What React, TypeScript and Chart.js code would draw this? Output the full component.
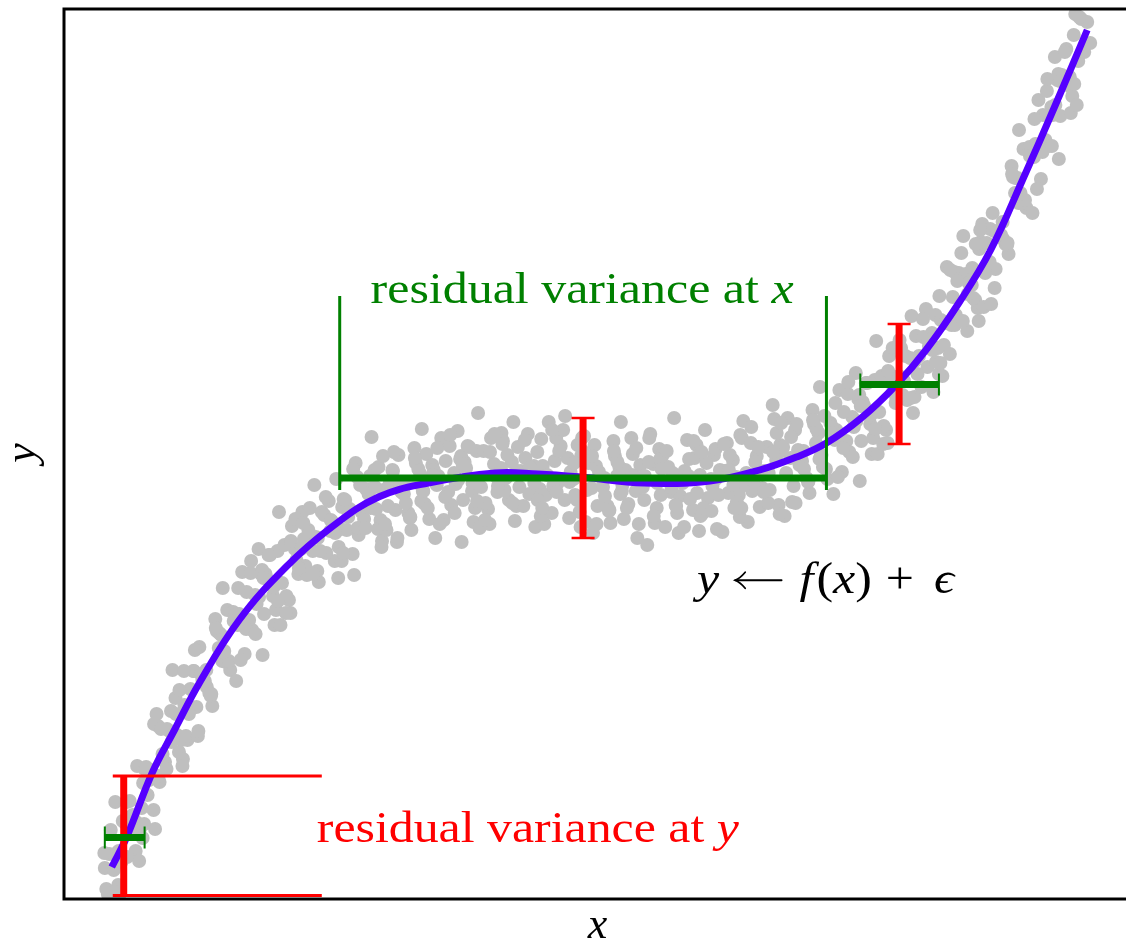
import React, { useEffect, useRef } from "react";
import { Chart, registerables } from "chart.js";

Chart.register(...registerables);

// fitted curve f(x)
const curveX = [4.8, 6.3, 8.9, 11.1, 13.6, 17.6, 22.3, 26.9, 31.6, 36.6, 43.3, 47.6, 51.9, 58.3, 64.9, 69.9, 73.6, 76.6, 80.1, 83.6, 86.6, 89.9, 93.1, 96.3, 99.6, 102.8];
const curveY = [3.2, 6.2, 12.7, 16.9, 21.6, 27.9, 33.2, 37.2, 40.2, 41.6, 42.6, 42.5, 42.2, 41.6, 41.8, 42.9, 44.2, 45.6, 48.1, 51.4, 54.9, 59.6, 64.9, 71.9, 79.4, 86.9];

// observed samples, lower section
const lowX = [
  4.1, 4.4, 4.7, 5.0, 5.3, 5.6, 5.9, 4.25, 5.15, 5.45,
  7.8, 6.6, 7.2, 6.15, 7.55, 6.9, 7.35, 6.35, 7.95, 6.75,
  8.1, 8.4, 8.7, 9.0, 9.3, 9.6, 9.9, 8.25, 9.15, 9.45,
  11.8, 10.6, 11.2, 10.15, 11.55, 10.9, 11.35, 10.35, 11.95, 10.75,
  12.1, 12.4, 12.7, 13.0, 13.3, 13.6, 13.9, 12.25, 13.15, 13.45,
  15.8, 14.6, 15.2, 14.15, 15.55, 14.9, 15.35, 14.35, 15.95, 14.75,
  16.1, 16.4, 16.7, 17.0, 17.3, 17.6, 17.9, 16.25, 17.15, 17.45,
  19.8, 18.6, 19.2, 18.15, 19.55, 18.9, 19.35, 18.35, 19.95, 18.75,
  20.1, 20.4, 20.7, 21.0, 21.3, 21.6, 21.9, 20.25, 21.15, 21.45,
  23.8, 22.6, 23.2, 22.15, 23.55, 22.9, 23.35, 22.35, 23.95, 22.75,
  24.1, 24.4, 24.7, 25.0, 25.3, 25.6, 25.9, 24.25, 25.15, 25.45,
  27.8, 26.6, 27.2, 26.15, 27.55, 26.9, 27.35, 26.35, 27.95, 26.75,
  28.1, 28.4, 28.7, 29.0, 29.3, 29.6, 29.9, 28.25, 29.15, 29.45,
  31.8, 30.6, 31.2, 30.15, 31.55, 30.9, 31.35, 30.35, 31.95, 30.75,
  32.1, 32.4, 32.7, 33.0, 33.3, 33.6, 33.9, 32.25, 33.15, 33.45,
];
const lowY = [
  3.1, 0.5, 6.9, 2.9, 4.6, 0.5, 7.8, 1.0, 9.7, 1.4,
  9.1, 9.8, 4.8, 7.6, 3.8, 8.4, 13.3, 4.2, 11.6, 7.1,
  13.0, 10.4, 12.9, 8.9, 18.5, 11.7, 14.5, 13.2, 7.0, 17.3,
  15.9, 16.8, 20.1, 13.7, 14.7, 22.9, 16.4, 17.0, 14.0, 18.8,
  19.4, 15.9, 21.0, 22.8, 19.2, 25.2, 21.9, 16.3, 24.9, 16.3,
  26.4, 20.6, 28.0, 21.8, 25.1, 19.3, 26.8, 21.2, 31.1, 20.3,
  24.8, 28.9, 22.9, 28.7, 21.8, 28.5, 32.7, 23.7, 28.4, 27.4,
  32.5, 27.9, 30.4, 24.5, 35.0, 26.9, 29.5, 30.7, 24.4, 32.6,
  28.5, 32.0, 34.4, 30.3, 28.9, 38.7, 31.6, 32.5, 27.4, 34.8,
  35.0, 29.9, 35.0, 35.4, 32.5, 37.3, 33.9, 30.3, 38.7, 28.6,
  36.0, 32.4, 39.1, 34.8, 36.2, 31.7, 38.7, 33.3, 41.4, 32.8,
  37.0, 39.8, 33.8, 38.4, 32.1, 37.8, 42.0, 34.6, 39.2, 36.8,
  40.0, 36.9, 39.0, 34.5, 43.6, 36.4, 38.7, 39.9, 32.4, 42.2,
  37.9, 40.5, 42.9, 38.0, 37.0, 46.2, 39.0, 41.0, 35.8, 42.3,
  40.9, 36.9, 41.5, 42.9, 38.9, 44.4, 40.7, 37.5, 44.7, 35.7,
];

// observed samples, middle section
const midX = [
  35.8, 34.6, 35.2, 34.15, 35.55, 34.9, 35.35, 34.35, 35.95, 34.75,
  36.1, 36.4, 36.7, 37.0, 37.3, 37.6, 37.9, 36.25, 37.15, 37.45,
  39.8, 38.6, 39.2, 38.15, 39.55, 38.9, 39.35, 38.35, 39.95, 38.75,
  40.1, 40.4, 40.7, 41.0, 41.3, 41.6, 41.9, 40.25, 41.15, 41.45,
  43.8, 42.6, 43.2, 42.15, 43.55, 42.9, 43.35, 42.35, 43.95, 42.75,
  44.1, 44.4, 44.7, 45.0, 45.3, 45.6, 45.9, 44.25, 45.15, 45.45,
  47.8, 46.6, 47.2, 46.15, 47.55, 46.9, 47.35, 46.35, 47.95, 46.75,
  48.1, 48.4, 48.7, 49.0, 49.3, 49.6, 49.9, 48.25, 49.15, 49.45,
  51.8, 50.6, 51.2, 50.15, 51.55, 50.9, 51.35, 50.35, 51.95, 50.75,
  52.1, 52.4, 52.7, 53.0, 53.3, 53.6, 53.9, 52.25, 53.15, 53.45,
  55.8, 54.6, 55.2, 54.15, 55.55, 54.9, 55.35, 54.35, 55.95, 54.75,
  56.1, 56.4, 56.7, 57.0, 57.3, 57.6, 57.9, 56.25, 57.15, 57.45,
  59.8, 58.6, 59.2, 58.15, 59.55, 58.9, 59.35, 58.35, 59.95, 58.75,
  60.1, 60.4, 60.7, 61.0, 61.3, 61.6, 61.9, 60.25, 61.15, 61.45,
  63.8, 62.6, 63.2, 62.15, 63.55, 62.9, 63.35, 62.35, 63.95, 62.75,
  64.1, 64.4, 64.7, 65.0, 65.3, 65.6, 65.9, 64.25, 65.15, 65.45,
  67.8, 66.6, 67.2, 66.15, 67.55, 66.9, 67.35, 66.35, 67.95, 66.75,
  68.1, 68.4, 68.7, 69.0, 69.3, 69.6, 69.9, 68.25, 69.15, 69.45,
  71.8, 70.6, 71.2, 70.15, 71.55, 70.9, 71.35, 70.35, 71.95, 70.75,
  72.1, 72.4, 72.7, 73.0, 73.3, 73.6, 73.9, 72.25, 73.15, 73.45,
];
const midY = [
  42.5, 38.6, 45.1, 40.5, 41.6, 36.9, 43.6, 39.6, 47.0, 38.1,
  40.8, 44.5, 38.0, 43.4, 36.1, 42.3, 46.1, 39.5, 42.9, 41.4,
  44.0, 40.7, 42.6, 37.9, 46.8, 39.4, 41.5, 43.8, 35.7, 45.3,
  39.9, 43.1, 45.2, 40.8, 39.1, 48.6, 41.2, 43.7, 37.7, 44.8,
  43.0, 39.0, 43.5, 44.8, 40.7, 46.1, 42.3, 39.6, 46.6, 37.5,
  45.8, 42.1, 39.9, 43.7, 37.8, 45.2, 42.8, 40.9, 47.7, 39.3,
  41.0, 46.5, 43.3, 39.3, 44.7, 42.4, 37.2, 44.1, 46.0, 40.5,
  43.3, 40.4, 47.7, 38.6, 43.8, 41.6, 45.3, 37.5, 41.3, 46.1,
  38.7, 44.1, 42.0, 46.9, 39.9, 42.7, 40.4, 48.3, 44.3, 38.1,
  44.8, 37.7, 43.6, 41.1, 45.4, 39.3, 42.2, 46.3, 36.6, 43.3,
  43.2, 39.3, 45.8, 41.2, 42.3, 37.6, 44.3, 40.3, 47.7, 38.8,
  41.4, 42.9, 39.5, 46.1, 42.3, 36.1, 43.4, 38.0, 44.5, 40.8,
  45.0, 35.4, 43.5, 41.2, 39.1, 46.5, 37.6, 42.3, 40.4, 43.7,
  44.3, 37.2, 43.2, 40.7, 48.1, 38.6, 40.3, 44.7, 42.6, 39.4,
  36.8, 45.9, 38.9, 41.6, 45.4, 40.0, 44.1, 42.8, 38.3, 42.3,
  38.5, 46.9, 40.1, 42.0, 44.4, 37.0, 42.9, 39.1, 41.3, 45.0,
  40.4, 45.6, 43.9, 36.7, 42.2, 44.4, 39.1, 42.8, 46.4, 40.6,
  46.1, 41.4, 37.7, 45.6, 42.0, 44.3, 39.2, 47.8, 40.8, 43.7,
  39.4, 45.2, 49.4, 41.1, 43.9, 40.9, 48.0, 42.8, 45.4, 39.6,
  44.8, 38.3, 48.1, 44.1, 41.3, 47.5, 43.4, 45.2, 39.7, 46.9,
];

// observed samples, upper section
const highX = [
  75.8, 74.6, 75.2, 74.15, 75.55, 74.9, 75.35, 74.35, 75.95, 74.75,
  76.1, 76.4, 76.7, 77.0, 77.3, 77.6, 77.9, 76.25, 77.15, 77.45,
  79.8, 78.6, 79.2, 78.15, 79.55, 78.9, 79.35, 78.35, 79.95, 78.75,
  80.1, 80.4, 80.7, 81.0, 81.3, 81.6, 81.9, 80.25, 81.15, 81.45,
  83.8, 82.6, 83.2, 82.15, 83.55, 82.9, 83.35, 82.35, 83.95, 82.75,
  84.1, 84.4, 84.7, 85.0, 85.3, 85.6, 85.9, 84.25, 85.15, 85.45,
  87.8, 86.6, 87.2, 86.15, 87.55, 86.9, 87.35, 86.35, 87.95, 86.75,
  88.1, 88.4, 88.7, 89.0, 89.3, 89.6, 89.9, 88.25, 89.15, 89.45,
  91.8, 90.6, 91.2, 90.15, 91.55, 90.9, 91.35, 90.35, 91.95, 90.75,
  92.1, 92.4, 92.7, 93.0, 93.3, 93.6, 93.9, 92.25, 93.15, 93.45,
  95.8, 94.6, 95.2, 94.15, 95.55, 94.9, 95.35, 94.35, 95.95, 94.75,
  96.1, 96.4, 96.7, 97.0, 97.3, 97.6, 97.9, 96.25, 97.15, 97.45,
  99.8, 98.6, 99.2, 98.15, 99.55, 98.9, 99.35, 98.35, 99.95, 98.75,
  100.1, 100.4, 100.7, 101.0, 101.3, 101.6, 101.9, 100.25, 101.15, 101.45,
  102.2, 102.5, 102.8, 103.1, 102.0,
];
const highY = [
  46.6, 42.1, 48.9, 43.8, 45.6, 40.6, 47.5, 43.0, 51.2, 41.7,
  44.4, 48.3, 42.0, 47.6, 40.5, 46.9, 50.9, 43.2, 47.2, 45.9,
  50.0, 45.8, 48.2, 42.7, 52.6, 44.7, 47.2, 48.7, 41.8, 50.5,
  45.8, 49.3, 51.6, 47.5, 46.1, 55.8, 48.7, 49.7, 44.5, 51.9,
  52.1, 46.9, 52.0, 52.3, 49.6, 54.3, 51.0, 47.3, 55.9, 45.6,
  55.1, 51.8, 49.9, 54.1, 48.6, 56.3, 54.3, 50.4, 58.3, 50.2,
  55.1, 59.0, 56.6, 51.2, 58.4, 55.3, 50.7, 56.2, 60.3, 53.2,
  57.9, 55.4, 63.2, 54.5, 60.2, 58.4, 62.6, 52.3, 57.4, 62.7,
  59.1, 62.5, 61.4, 64.6, 59.9, 61.6, 60.1, 66.3, 65.0, 56.8,
  65.7, 59.2, 65.6, 63.7, 68.6, 63.0, 66.5, 67.5, 59.5, 66.8,
  72.1, 65.5, 73.3, 66.4, 70.6, 64.5, 72.2, 66.0, 76.9, 65.4,
  70.6, 75.0, 69.1, 75.2, 68.6, 75.5, 79.9, 69.6, 75.0, 74.2,
  81.9, 75.9, 79.2, 72.0, 84.2, 75.3, 78.4, 78.4, 74.0, 80.8,
  78.3, 82.2, 85.0, 81.3, 80.3, 88.5, 83.8, 82.4, 78.6, 86.4,
  88.0, 84.7, 87.7, 85.6, 88.2,
];

// further observed samples across the whole range
const extraX = [
  4.55, 5.05, 5.5, 4.05, 5.75, 7.6, 6.8, 6.3, 7.25, 7.9,
  8.55, 9.05, 9.5, 8.05, 9.75, 11.6, 10.8, 10.3, 11.25, 11.9,
  12.55, 13.05, 13.5, 12.05, 13.75, 15.6, 14.8, 14.3, 15.25, 15.9,
  16.55, 17.05, 17.5, 16.05, 17.75, 19.6, 18.8, 18.3, 19.25, 19.9,
  20.55, 21.05, 21.5, 20.05, 21.75, 23.6, 22.8, 22.3, 23.25, 23.9,
  24.55, 25.05, 25.5, 24.05, 25.75, 27.6, 26.8, 26.3, 27.25, 27.9,
  28.55, 29.05, 29.5, 28.05, 29.75, 31.6, 30.8, 30.3, 31.25, 31.9,
  32.55, 33.05, 33.5, 32.05, 33.75, 35.6, 34.8, 34.3, 35.25, 35.9,
  36.55, 37.05, 37.5, 36.05, 37.75, 39.6, 38.8, 38.3, 39.25, 39.9,
  40.55, 41.05, 41.5, 40.05, 41.75, 43.6, 42.8, 42.3, 43.25, 43.9,
  44.55, 45.05, 45.5, 44.05, 45.75, 47.6, 46.8, 46.3, 47.25, 47.9,
  48.55, 49.05, 49.5, 48.05, 49.75, 51.6, 50.8, 50.3, 51.25, 51.9,
  52.55, 53.05, 53.5, 52.05, 53.75, 55.6, 54.8, 54.3, 55.25, 55.9,
  56.55, 57.05, 57.5, 56.05, 57.75, 59.6, 58.8, 58.3, 59.25, 59.9,
  60.55, 61.05, 61.5, 60.05, 61.75, 63.6, 62.8, 62.3, 63.25, 63.9,
  64.55, 65.05, 65.5, 64.05, 65.75, 67.6, 66.8, 66.3, 67.25, 67.9,
  68.55, 69.05, 69.5, 68.05, 69.75, 71.6, 70.8, 70.3, 71.25, 71.9,
  72.55, 73.05, 73.5, 72.05, 73.75, 75.6, 74.8, 74.3, 75.25, 75.9,
  76.55, 77.05, 77.5, 76.05, 77.75, 79.6, 78.8, 78.3, 79.25, 79.9,
  80.55, 81.05, 81.5, 80.05, 81.75, 83.6, 82.8, 82.3, 83.25, 83.9,
  84.55, 85.05, 85.5, 84.05, 85.75, 87.6, 86.8, 86.3, 87.25, 87.9,
  88.55, 89.05, 89.5, 88.05, 89.75, 91.6, 90.8, 90.3, 91.25, 91.9,
  92.55, 93.05, 93.5, 92.05, 93.75, 95.6, 94.8, 94.3, 95.25, 95.9,
  96.55, 97.05, 97.5, 96.05, 97.75, 99.6, 98.8, 98.3, 99.25, 99.9,
  100.55, 101.05, 101.5, 100.05, 101.75,
];
const extraY = [
  4.5, 0.7, 4.8, 4.6, 3.7, 6.9, 8.2, 9.7, 7.7, 6.1,
  11.9, 17.5, 12.3, 7.5, 17.0, 20.9, 15.7, 13.0, 18.5, 13.3,
  18.5, 22.8, 16.8, 22.8, 22.5, 26.6, 20.5, 22.9, 27.1, 23.8,
  23.8, 27.8, 31.1, 24.7, 23.9, 30.2, 33.8, 27.0, 26.5, 32.9,
  34.4, 31.2, 29.8, 32.1, 27.4, 33.1, 35.8, 28.6, 38.0, 35.2,
  36.9, 32.5, 36.1, 37.6, 34.8, 35.2, 37.9, 40.2, 36.6, 33.8,
  38.2, 43.0, 37.1, 34.6, 41.4, 43.2, 39.1, 37.1, 41.2, 35.2,
  39.3, 42.8, 36.1, 44.3, 41.4, 43.0, 38.2, 41.4, 44.1, 39.8,
  39.1, 42.4, 45.1, 40.8, 37.5, 41.9, 46.4, 40.2, 38.6, 44.3,
  45.3, 41.6, 39.8, 43.5, 37.1, 41.3, 44.7, 37.9, 46.5, 43.1,
  44.4, 39.6, 42.8, 45.5, 41.2, 39.9, 43.2, 45.9, 41.6, 38.3,
  42.4, 46.9, 40.7, 39.1, 44.8, 45.4, 41.7, 39.9, 43.6, 37.2,
  40.9, 44.3, 37.5, 46.1, 42.7, 43.7, 38.9, 42.1, 44.8, 40.5,
  39.1, 42.4, 45.1, 40.8, 37.5, 41.6, 46.1, 39.9, 38.3, 44.0,
  44.8, 41.1, 39.3, 43.0, 36.6, 40.6, 44.0, 37.2, 45.8, 42.4,
  43.6, 38.8, 42.0, 44.7, 40.4, 39.7, 42.9, 45.5, 41.4, 38.2,
  42.6, 47.2, 41.1, 39.1, 45.2, 46.6, 42.6, 40.7, 44.7, 38.5,
  42.6, 46.2, 39.6, 47.6, 44.9, 47.0, 41.8, 44.8, 47.9, 44.0,
  43.0, 46.6, 49.6, 44.4, 42.2, 47.8, 51.7, 45.1, 44.2, 50.4,
  51.6, 48.4, 47.0, 49.3, 44.5, 50.2, 52.8, 45.5, 55.1, 52.3,
  54.3, 50.1, 53.8, 54.8, 52.5, 53.7, 55.9, 58.0, 54.9, 52.5,
  57.6, 62.9, 57.4, 53.6, 61.8, 65.5, 60.5, 57.8, 63.1, 57.8,
  62.6, 67.0, 61.1, 66.9, 66.7, 72.1, 65.6, 67.7, 72.5, 69.6,
  69.9, 74.3, 78.0, 70.5, 71.0, 79.4, 82.0, 74.7, 75.3, 82.5,
  84.7, 82.2, 81.5, 81.8, 79.4,
];

// axis ranges
const xRange = [0, 107.4];
const yRange = [0, 89];

// residual spread in y (vertical bars): x, low, high
const redBarX = [6.0, 52.15, 83.9];
const redBarLow = [0.35, 36.1, 45.5];
const redBarHigh = [12.3, 48.1, 57.5];
// residual spread in x (horizontal bars): y, low, high
const greenBarY = [6.15, 42.1, 51.45];
const greenBarLow = [4.1, 27.7, 80.0];
const greenBarHigh = [8.1, 76.6, 87.9];

// texts
const labelYText = "residual variance at ";
const labelXText = "residual variance at ";
const xAxisLabel = "x";
const yAxisLabel = "y";

const SERIF = "'Liberation Serif','DejaVu Serif','Times New Roman',serif";
const RED = "#ff0000";
const GREEN = "#008000";

type Part = { t?: string; i?: boolean; gap?: number; arrow?: number };

function drawRich(
  ctx: CanvasRenderingContext2D,
  parts: Part[],
  x: number,
  baseline: number,
  size: number,
  color: string,
  targetW?: number
) {
  const fontOf = (p: Part) => `${p.i ? "italic " : ""}${size}px ${SERIF}`;
  let total = 0;
  const widths: number[] = [];
  for (const p of parts) {
    if (p.gap !== undefined) {
      widths.push(p.gap * size);
    } else if (p.arrow !== undefined) {
      widths.push(p.arrow * size);
    } else {
      ctx.font = fontOf(p);
      widths.push(ctx.measureText(p.t || "").width);
    }
    total += widths[widths.length - 1];
  }
  const sx = targetW ? targetW / total : 1;
  ctx.save();
  ctx.translate(x, baseline);
  ctx.fillStyle = color;
  ctx.strokeStyle = color;
  ctx.textAlign = "left";
  ctx.textBaseline = "alphabetic";
  let cx = 0;
  parts.forEach((p, k) => {
    const w = widths[k] * sx;
    if (p.arrow !== undefined) {
      // leftwards arrow on the math axis
      const ay = -0.29 * size;
      ctx.lineWidth = 1.8;
      ctx.lineCap = "round";
      ctx.beginPath();
      ctx.moveTo(cx + 1, ay);
      ctx.lineTo(cx + w, ay);
      ctx.stroke();
      ctx.beginPath();
      ctx.moveTo(cx + 11, ay - 8);
      ctx.quadraticCurveTo(cx + 6, ay - 2, cx + 1, ay);
      ctx.quadraticCurveTo(cx + 6, ay + 2, cx + 11, ay + 8);
      ctx.stroke();
    } else if (p.gap === undefined) {
      ctx.save();
      ctx.translate(cx, 0);
      ctx.scale(sx, 1);
      ctx.font = fontOf(p);
      ctx.fillText(p.t || "", 0, 0);
      ctx.restore();
    }
    cx += w;
  });
  ctx.restore();
}

const annotations = {
  id: "annotations",
  afterDatasetsDraw(chart: any) {
    const { ctx, chartArea } = chart;
    const xs = chart.scales.x;
    const ys = chart.scales.y;
    const px = (v: number) => xs.getPixelForValue(v);
    const py = (v: number) => ys.getPixelForValue(v);
    const seg = (x1: number, y1: number, x2: number, y2: number, color: string, w: number) => {
      ctx.beginPath();
      ctx.moveTo(x1, y1);
      ctx.lineTo(x2, y2);
      ctx.strokeStyle = color;
      ctx.lineWidth = w;
      ctx.lineCap = "butt";
      ctx.stroke();
    };
    ctx.save();

    const drawRed = (k: number) => {
      const x = px(redBarX[k]);
      const top = py(redBarHigh[k]);
      const bot = py(redBarLow[k]);
      seg(x, top, x, bot, RED, 7);
      if (k === 0) {
        seg(px(4.9), top, px(25.9), top, RED, 3);
        seg(px(4.9), bot, px(25.9), bot, RED, 3);
      } else {
        seg(x - 11.5, top, x + 11.5, top, RED, 2.5);
        seg(x - 11.5, bot, x + 11.5, bot, RED, 2.5);
      }
    };
    const drawGreen = (k: number) => {
      const y = py(greenBarY[k]);
      const l = px(greenBarLow[k]);
      const r = px(greenBarHigh[k]);
      seg(l, y, r, y, GREEN, 7);
      if (k === 1) {
        seg(l, py(60.3), l, py(40.9), GREEN, 3);
        seg(r, py(60.3), r, py(40.9), GREEN, 3);
      } else {
        seg(l, y - 11, l, y + 11, GREEN, 2);
        seg(r, y - 11, r, y + 11, GREEN, 2);
      }
    };

    drawRed(0);
    drawGreen(0);
    drawGreen(1);
    drawRed(1);
    drawRed(2);
    drawGreen(2);

    // annotation texts
    drawRich(ctx, [{ t: labelXText }, { t: "x", i: true }], px(30.8), py(59.6), 44, GREEN, 423);
    drawRich(ctx, [{ t: labelYText }, { t: "y", i: true }], px(25.4), py(5.7), 44, RED, 422);
    drawRich(
      ctx,
      [
        { t: "y", i: true },
        { gap: 0.3 },
        { arrow: 0.95 },
        { gap: 0.36 },
        { t: "f", i: true },
        { gap: 0.06 },
        { t: "(" },
        { t: "x", i: true },
        { t: ")" },
        { gap: 0.28 },
        { t: "+" },
        { gap: 0.4 },
        { t: "\u03f5", i: true },
      ],
      px(63.6),
      py(30.6),
      44,
      "#000",
      257
    );

    // axis labels
    ctx.fillStyle = "#000";
    ctx.font = `italic 44px ${SERIF}`;
    ctx.textAlign = "center";
    ctx.textBaseline = "alphabetic";
    ctx.fillText(xAxisLabel, px(53.6), chartArea.bottom + 39);
    ctx.save();
    ctx.translate(chartArea.left - 29, py(44.6));
    ctx.rotate(-Math.PI / 2);
    ctx.fillText(yAxisLabel, 0, 0);
    ctx.restore();

    // frame
    ctx.strokeStyle = "#000";
    ctx.lineWidth = 3;
    ctx.strokeRect(chartArea.left, chartArea.top, chartArea.right - chartArea.left, chartArea.bottom - chartArea.top);
    ctx.restore();
  },
};

export default function App() {
  const ref = useRef<HTMLCanvasElement | null>(null);
  useEffect(() => {
    if (!ref.current) return;
    const sampleX = [...lowX, ...midX, ...highX, ...extraX];
    const sampleY = [...lowY, ...midY, ...highY, ...extraY];
    const chart = new Chart(ref.current, {
      type: "scatter",
      data: {
        datasets: [
          {
            type: "line",
            label: "f(x)",
            data: curveX.map((x, i) => ({ x, y: curveY[i] })),
            borderColor: "#5500ff",
            borderWidth: 7,
            borderCapStyle: "butt",
            pointRadius: 0,
            tension: 0.4,
            fill: false,
            order: 0,
          } as any,
          {
            type: "scatter",
            label: "samples",
            data: sampleX.map((x, i) => ({ x, y: sampleY[i] })),
            backgroundColor: "#bfbfbf",
            borderColor: "#bfbfbf",
            borderWidth: 0,
            pointRadius: 7,
            order: 1,
          } as any,
        ],
      },
      options: {
        responsive: false,
        animation: false,
        devicePixelRatio: 1,
        events: [],
        elements: { point: { radius: 7 } },
        layout: { padding: { left: 64, top: 9, right: 2, bottom: 44 } },
        scales: {
          x: { type: "linear", min: xRange[0], max: xRange[1], display: false },
          y: { type: "linear", min: yRange[0], max: yRange[1], display: false },
        },
        plugins: { legend: { display: false }, tooltip: { enabled: false } },
      },
      plugins: [annotations],
    });
    return () => chart.destroy();
  }, []);
  return (
    <div
      style={{
        position: "fixed",
        left: 0,
        top: 0,
        width: 1126,
        height: 943,
        overflow: "hidden",
        background: "#fff",
      }}
    >
      <canvas ref={ref} width={1140} height={943} style={{ display: "block" }} />
    </div>
  );
}
